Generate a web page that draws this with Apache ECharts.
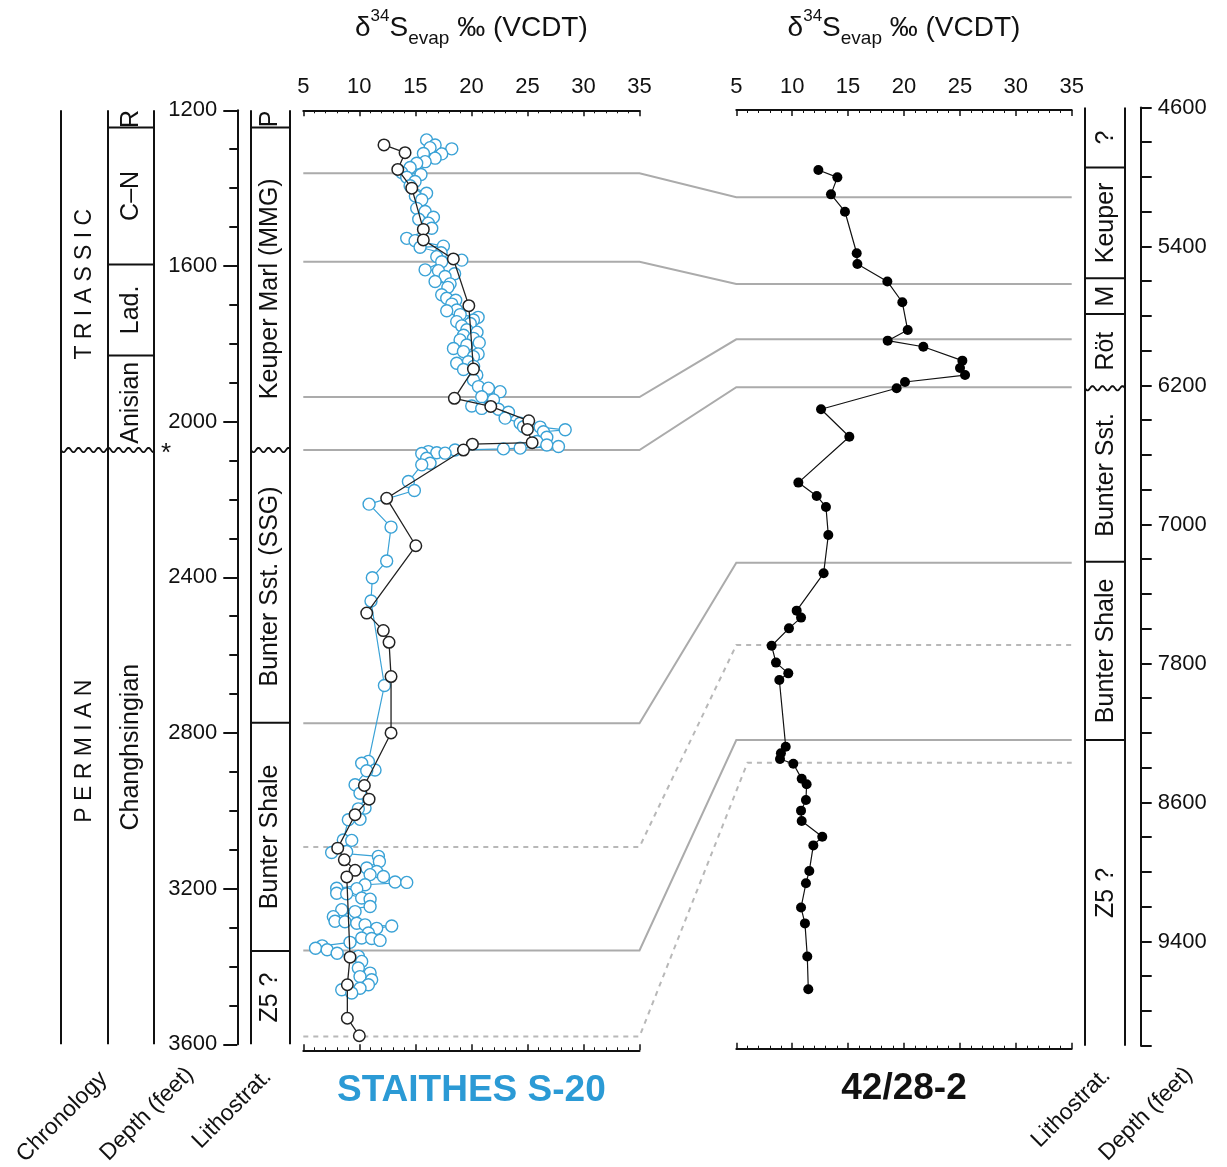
<!DOCTYPE html>
<html><head><meta charset="utf-8">
<script src="https://cdn.jsdelivr.net/npm/echarts@6/dist/echarts.min.js"></script>
<style>html,body{margin:0;padding:0;background:#fff}#c{width:1227px;height:1167px}</style>
</head><body><div id="c"></div>
<script>
// ---------------- DATA ----------------
// Staithes S-20 (blue, open circles): depth (feet) and d34S (permil)
const s20BlueDepth = [1276,1289,1296,1299,1311,1312,1323,1332,1336,1347,1360,1365,1372,1383,1394,1413,1420,1430,1452,1460,1475,1480,1490,1503,1529,1535,1549,1552,1566,1576,1585,1589,1610,1612,1620,1627,1640,1646,1655,1674,1683,1688,1698,1713,1715,1725,1732,1739,1743,1748,1754,1764,1770,1778,1786,1790,1797,1803,1812,1820,1826,1833,1846,1850,1858,1866,1880,1893,1910,1914,1923,1936,1944,1960,1966,1968,1976,1991,2004,2013,2014,2021,2026,2040,2051,2060,2064,2068,2070,2073,2077,2080,2081,2082,2094,2107,2111,2154,2177,2212,2271,2358,2401,2461,2678,2873,2878,2895,2897,2933,2955,2993,2995,3022,3023,3075,3076,3105,3107,3117,3130,3147,3156,3164,3169,3183,3184,3190,3199,3200,3212,3213,3224,3227,3246,3254,3259,3272,3284,3285,3289,3293,3296,3302,3314,3327,3328,3333,3338,3347,3353,3357,3366,3374,3387,3404,3417,3426,3434,3447,3456,3460,3468];
const s20BlueD34S = [16.0,16.76,16.31,18.25,15.72,17.35,16.76,15.87,15.12,14.53,13.78,15.5,14.23,14.97,14.53,16.0,15.0,15.57,15.12,15.87,16.61,15.3,16.16,16.46,14.23,14.97,17.5,15.42,17.3,16.91,19.14,17.35,15.87,17.06,18.5,17.65,16.76,18.1,17.9,17.35,17.8,18.6,18.25,18.69,17.8,19.0,20.6,20.18,18.69,19.9,19.14,19.59,20.5,19.3,20.18,18.99,20.7,19.59,18.4,19.29,20.6,20.18,19.73,18.69,20.2,19.3,20.48,20.18,20.63,21.52,22.56,20.92,21.97,20.03,20.92,22.41,23.31,23.01,24.35,24.65,26.13,28.37,26.43,26.73,25.84,26.73,27.77,24.35,22.86,18.54,16.16,16.91,17.65,15.57,16.01,16.31,15.57,14.38,14.91,10.87,12.83,12.44,11.16,11.04,12.24,10.81,10.21,11.4,10.66,9.62,10.06,10.51,9.91,10.06,9.02,8.57,9.32,8.87,7.53,11.7,11.79,10.66,11.55,10.96,12.15,13.19,14.23,10.51,7.98,9.77,7.98,8.87,10.21,10.96,10.96,8.43,9.62,7.68,7.83,8.72,9.77,10.51,12.89,11.55,10.81,10.21,11.1,11.85,9.17,6.68,6.09,7.13,8.02,9.91,10.21,9.91,10.96,10.06,11.1,10.81,10.06,8.43,9.32];
// Staithes S-20 (black, open circles)
const s20BlackDepth = [1289,1309,1352,1400,1506,1533,1582,1702,1865,1940,1961,1998,2020,2054,2058,2073,2197,2319,2492,2537,2567,2655,2800,2935,2970,3010,3096,3126,3153,3170,3376,3447,3533,3578];
const s20BlackD34S = [12.2,14.08,13.43,14.68,15.71,15.71,18.39,19.77,20.18,18.48,21.73,25.12,25.0,25.42,20.09,19.29,12.44,15.04,10.66,12.14,12.65,12.83,12.83,10.45,10.87,9.62,8.07,8.66,9.62,8.88,9.17,8.93,8.93,10.0];
// Well 42/28-2 (black, filled circles)
const w42Depth = [4960,5002,5100,5200,5439,5501,5601,5721,5881,5942,5977,6057,6099,6140,6180,6216,6337,6495,6759,6836,6899,7061,7281,7496,7536,7598,7698,7795,7857,7895,8279,8317,8350,8377,8464,8495,8586,8647,8707,8797,8847,8994,9065,9205,9296,9487,9675];
const w42D34S = [12.34,14.04,13.47,14.72,15.77,15.83,18.51,19.85,20.33,18.54,21.73,25.22,25.01,25.46,20.09,19.34,12.58,15.11,10.55,12.19,13.02,13.23,12.81,10.4,10.79,9.71,8.16,8.55,9.65,8.85,9.42,8.99,8.91,10.1,10.85,11.29,11.23,10.79,10.85,12.69,11.89,11.53,11.23,10.79,11.14,11.35,11.44];

// Correlation lines (left depth -> right depth)
const corrDepthLeft  = [1362,1589,1937,2073,2775,3093,3359,3580];
const corrDepthRight = [5117,5616,5934,6210,7220,7694,8241,8371];
const corrRightStartD34S = [5,5,5,5,5,5,5,6];
const corrDashed = [false,false,false,false,false,true,false,true];

// Columns: [label, top depth, bottom depth]
const chronoSystems = [['T R I A S S I C',1200,2073],['P E R M I A N',2073,3600]];
const chronoStages = [['R',1200,1244],['C\u2013N',1244,1596],['Lad.',1596,1830],['Anisian',1830,2073],['Changhsingian',2073,3600]];
const lithoLeft = [['P',1200,1244],['Keuper Marl (MMG)',1244,2073],['Bunter Sst. (SSG)',2073,2774],['Bunter Shale',2774,3360],['Z5 ?',3360,3600]];
const lithoRight = [['?',4600,4946],['Keuper',4946,5583],['M',5583,5789],['R\u00f6t',5789,6216],['Bunter Sst.',6216,7214],['Bunter Shale',7214,8241],['Z5 ?',8241,10000]];
const unconformityLeft = 2073;
const unconformityRight = 6216;

// Axis ranges / ticks
const d34sMin = 5, d34sMax = 35, d34sStep = 5;
const leftDepthMin = 1200, leftDepthMax = 3600, leftDepthStep = 400;
const rightDepthMin = 4600, rightDepthMax = 10000, rightDepthTick = 200, rightDepthLabelStep = 800;

const titleText = '{a|\u03b4}{sup|34}{a|S}{sub|evap}{a| \u2030 (VCDT)}';
const leftWellName = 'STAITHES S-20';
const rightWellName = '42/28-2';
const footLeft = ['Chronology','Depth (feet)','Lithostrat.'];
const footRight = ['Lithostrat.','Depth (feet)'];

// ---------------- CHART ----------------
const FONT = '"Liberation Sans", Arial, Helvetica, sans-serif';
const BLUE = '#3aa2d6';
const chart = echarts.init(document.getElementById('c'), null, {renderer:'canvas'});

const zip = (a,b) => a.map((v,i)=>[b[i], v]);

const titleRich = {
  a:{fontSize:28, fontFamily:FONT, color:'#111', lineHeight:40},
  sup:{fontSize:17, fontFamily:FONT, color:'#111', lineHeight:24, verticalAlign:'top'},
  sub:{fontSize:19, fontFamily:FONT, color:'#111', lineHeight:18, verticalAlign:'bottom'}
};

function xTop(gi, off){
  return {gridIndex:gi, type:'value', position:'top', offset:off, min:d34sMin, max:d34sMax, interval:d34sStep,
    axisLine:{show:true, onZero:false, lineStyle:{color:'#111', width:2}},
    axisTick:{show:true, inside:true, length:6, lineStyle:{color:'#111', width:1.5}},
    minorTick:{show:true, splitNumber:5, length:3, lineStyle:{color:'#111', width:1}},
    axisLabel:{show:true, fontSize:22, fontFamily:FONT, color:'#111', margin:12},
    splitLine:{show:false},
    name:titleText, nameLocation:'middle', nameGap:62, nameTextStyle:{rich:titleRich}};
}
function xBottom(gi, off, name, color){
  return {gridIndex:gi, type:'value', position:'bottom', offset:off, min:d34sMin, max:d34sMax, interval:d34sStep,
    axisLine:{show:true, onZero:false, lineStyle:{color:'#111', width:2}},
    axisTick:{show:true, inside:true, length:6, lineStyle:{color:'#111', width:1.5}},
    minorTick:{show:true, splitNumber:5, length:3, lineStyle:{color:'#111', width:1}},
    axisLabel:{show:false}, splitLine:{show:false},
    name:name, nameLocation:'middle', nameGap:22,
    nameTextStyle:{fontSize:37, fontWeight:'bold', fontFamily:FONT, color:color}};
}

const option = {
  animation:false,
  backgroundColor:'#fff',
  grid:[
    {left:303.3, right:1227-639.5, top:110.3, bottom:1167-1044.3},
    {left:736.3, right:1227-1071.7, top:107.5, bottom:1167-1045.7}
  ],
  xAxis:[
    xTop(0,0), xBottom(0,6,leftWellName,'#2b9ad5'),
    xTop(1,-2.5), xBottom(1,3,rightWellName,'#111')
  ],
  yAxis:[
    {gridIndex:0, type:'value', inverse:true, min:leftDepthMin, max:leftDepthMax, interval:leftDepthStep,
     position:'left', offset:66,
     axisLine:{show:true, onZero:false, lineStyle:{color:'#111', width:2}},
     axisTick:{show:true, length:14, lineStyle:{color:'#111', width:2}},
     minorTick:{show:true, splitNumber:4, length:8, lineStyle:{color:'#111', width:2}},
     axisLabel:{fontSize:22, fontFamily:FONT, color:'#111', margin:20, formatter:v => String(v)},
     splitLine:{show:false}},
    {gridIndex:1, type:'value', inverse:true, min:rightDepthMin, max:rightDepthMax, interval:rightDepthTick,
     position:'right', offset:69,
     axisLine:{show:true, onZero:false, lineStyle:{color:'#111', width:2}},
     axisTick:{show:true, length:11, lineStyle:{color:'#111', width:2}},
     axisLabel:{fontSize:22, fontFamily:FONT, color:'#111', margin:17,
       formatter:v => ((v-rightDepthMin)%rightDepthLabelStep===0 && v<rightDepthMax) ? String(v) : ''},
     splitLine:{show:false}}
  ],
  series:[
    {type:'line', name:'S-20 blue', xAxisIndex:0, yAxisIndex:0, data:zip(s20BlueDepth, s20BlueD34S),
     symbol:'circle', symbolSize:12, showAllSymbol:true, z:3,
     lineStyle:{color:BLUE, width:1.2}, itemStyle:{color:'#fff', borderColor:BLUE, borderWidth:1.4}},
    {type:'line', name:'S-20 black', xAxisIndex:0, yAxisIndex:0, data:zip(s20BlackDepth, s20BlackD34S),
     symbol:'circle', symbolSize:11.5, showAllSymbol:true, z:4,
     lineStyle:{color:'#222', width:1.3}, itemStyle:{color:'#fff', borderColor:'#222', borderWidth:1.5}},
    {type:'line', name:'42/28-2', xAxisIndex:2, yAxisIndex:1, data:zip(w42Depth, w42D34S),
     symbol:'circle', symbolSize:10, showAllSymbol:true, z:4,
     lineStyle:{color:'#111', width:1.2}, itemStyle:{color:'#000', borderColor:'#000', borderWidth:0}}
  ]
};
chart.setOption(option);

// ---------- graphics built through the axes' own scales ----------
const pL = (x,d) => chart.convertToPixel({seriesIndex:0}, [x,d]);
const pR = (x,d) => chart.convertToPixel({seriesIndex:2}, [x,d]);
const yL = d => pL(d34sMin, d)[1];
const yR = d => pR(d34sMin, d)[1];
const G = [];

corrDepthLeft.forEach((dl,i)=>{
  const dr = corrDepthRight[i];
  const pts = [pL(d34sMin, dl), pL(d34sMax, dl), pR(corrRightStartD34S[i], dr), pR(d34sMax, dr)];
  G.push({type:'polyline', silent:true, z:1, shape:{points:pts},
    style:{stroke: corrDashed[i] ? '#b8b8b8' : '#ababab', lineWidth:2, fill:null, lineDash: corrDashed[i] ? [5,5] : null}});
});

const LC = '#111';
function vline(x,y1,y2){ G.push({type:'line', silent:true, z:5, shape:{x1:x,y1:y1,x2:x,y2:y2}, style:{stroke:LC, lineWidth:2}}); }
function hline(x1,x2,y){ G.push({type:'line', silent:true, z:5, shape:{x1:x1,y1:y,x2:x2,y2:y}, style:{stroke:LC, lineWidth:2}}); }
function wave(x1,x2,y){
  const pts=[]; const period=10, amp=2.2;
  for(let x=x1; x<=x2+0.01; x+=1){ pts.push([x, y + amp*Math.sin((x-x1)/period*2*Math.PI)]); }
  G.push({type:'polyline', silent:true, z:5, shape:{points:pts}, style:{stroke:LC, lineWidth:1.8, fill:null}});
}
function vtext(t,x,y,size){
  G.push({type:'text', silent:true, z:6, x:x, y:y, rotation:Math.PI/2,
    style:{text:t, fontSize:size||25, fontFamily:FONT, fill:LC, align:'center', verticalAlign:'middle', textAlign:'center', textVerticalAlign:'middle'}});
}
function dtext(t,x,y){
  G.push({type:'text', silent:true, z:6, x:x, y:y, rotation:Math.PI/4,
    style:{text:t, fontSize:23, fontFamily:FONT, fill:LC, align:'center', verticalAlign:'middle', textAlign:'center', textVerticalAlign:'middle'}});
}

// Left columns (chronology + lithostratigraphy)
const cx = [61,108,154], lx = [251,290];
const top0 = yL(leftDepthMin), bot0 = yL(leftDepthMax);
cx.concat(lx).forEach(x=>vline(x, top0, bot0));
chronoSystems.forEach(s=>vtext(s[0], (cx[0]+cx[1])/2, (yL(s[1])+yL(s[2]))/2 + 4, 23));
chronoStages.forEach((s,i)=>{
  if(i>0 && s[1]!==unconformityLeft) hline(cx[1], cx[2], yL(s[1]));
  vtext(s[0], (cx[1]+cx[2])/2, (yL(s[1])+yL(s[2]))/2, 25);
});
wave(cx[0], cx[2], yL(unconformityLeft));
G.push({type:'text', silent:true, z:6, x:166, y:yL(unconformityLeft)+4,
  style:{text:'*', fontSize:26, fontFamily:FONT, fill:LC, align:'center', verticalAlign:'middle', textAlign:'center', textVerticalAlign:'middle'}});
lithoLeft.forEach((s,i)=>{
  if(i>0 && s[1]!==unconformityLeft) hline(lx[0], lx[1], yL(s[1]));
  vtext(s[0], (lx[0]+lx[1])/2, (yL(s[1])+yL(s[2]))/2, 25);
});
wave(lx[0], lx[1], yL(unconformityLeft));

// Right lithostratigraphy column
const rx = [1085,1125];
const top1 = yR(rightDepthMin), bot1 = yR(rightDepthMax);
rx.forEach(x=>vline(x, top1, bot1));
lithoRight.forEach((s,i)=>{
  if(i>0 && s[1]!==unconformityRight) hline(rx[0], rx[1], yR(s[1]));
  vtext(s[0], (rx[0]+rx[1])/2 + 1, (yR(s[1])+yR(s[2]))/2, 25);
});
wave(rx[0], rx[1], yR(unconformityRight));

// Footer rotated labels
dtext(footLeft[0], 62, 1117);
dtext(footLeft[1], 147, 1114);
dtext(footLeft[2], 232, 1109);
dtext(footRight[0], 1071, 1108);
dtext(footRight[1], 1146, 1114);

chart.setOption({graphic:G});
</script></body></html>
